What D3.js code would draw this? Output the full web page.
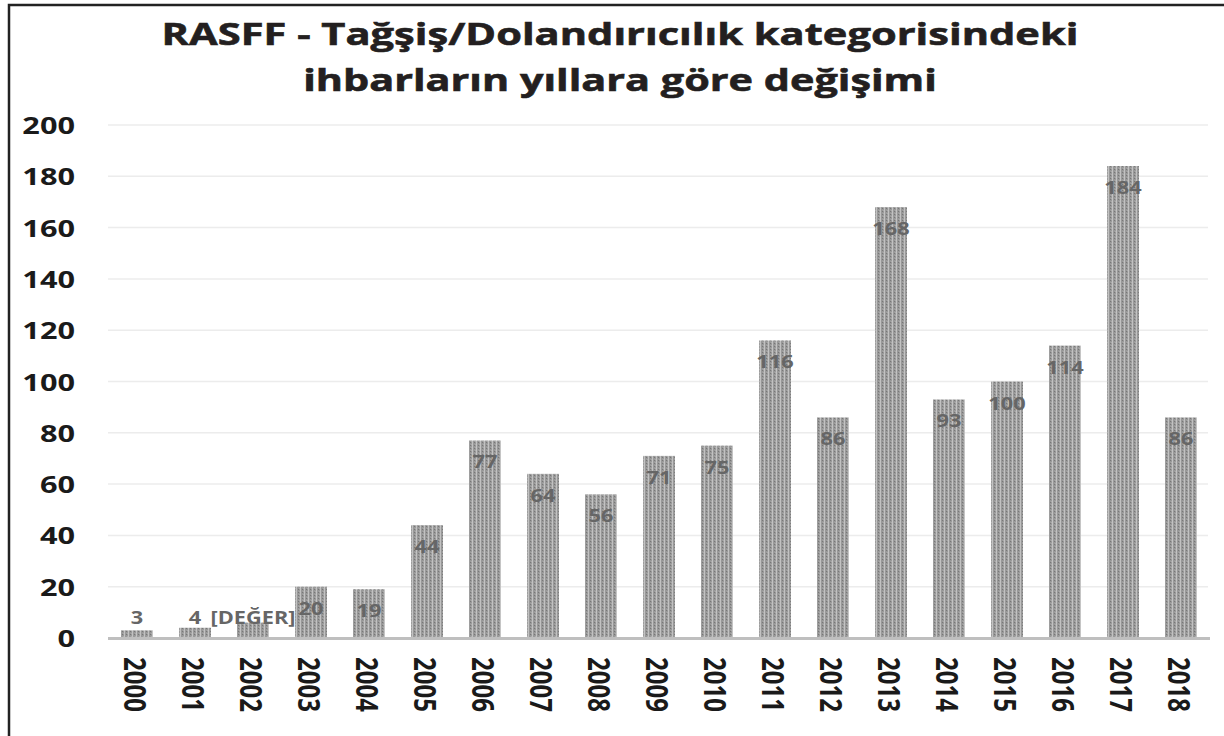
<!DOCTYPE html>
<html><head><meta charset="utf-8">
<script src="https://cdn.jsdelivr.net/npm/d3@7"></script>
<style>html,body{margin:0;padding:0;background:#fff;}svg{display:block;}</style>
</head><body>
<svg id="c" width="1224" height="736"></svg>
<script>
const years = ["2000","2001","2002","2003","2004","2005","2006","2007","2008","2009","2010","2011","2012","2013","2014","2015","2016","2017","2018"];
const values = [3,4,6,20,19,44,77,64,56,71,75,116,86,168,93,100,114,184,86];
const valueLabels = ["3","4","[DEĞER]","20","19","44","77","64","56","71","75","116","86","168","93","100","114","184","86"];
const yTicks = [0,20,40,60,80,100,120,140,160,180,200];
const titleLines = ["RASFF - Tağşiş/Dolandırıcılık kategorisindeki","ihbarların yıllara göre değişimi"];

const svg = d3.select("#c");
const FONT = "'Open Sans', sans-serif";
const SX = 1.28;

// pattern for bars
const defs = svg.append("defs");
const pat = defs.append("pattern").attr("id","dots").attr("patternUnits","userSpaceOnUse")
  .attr("width",4).attr("height",3);
pat.append("rect").attr("width",4).attr("height",3).attr("fill","#999999");
pat.append("rect").attr("x",0).attr("y",0).attr("width",1).attr("height",3).attr("fill","#c2c2c2");
pat.append("rect").attr("x",2).attr("y",1).attr("width",1).attr("height",1).attr("fill","#777777");
pat.append("rect").attr("x",3).attr("y",0).attr("width",1).attr("height",1).attr("fill","#adadad");

// frame
svg.append("path").attr("d","M9,736 V5 H1224").attr("fill","none").attr("stroke","#222").attr("stroke-width",2.5);

const x = d3.scaleBand().domain(years).range([108,1210]).paddingInner(0.45).paddingOuter(0.225);
const y = d3.scaleLinear().domain([0,200]).range([638,125]);

// gridlines
svg.append("g").selectAll("line").data(yTicks.filter(d=>d>0)).join("line")
  .attr("x1",108).attr("x2",1208).attr("y1",d=>y(d)).attr("y2",d=>y(d))
  .attr("stroke","#ececec").attr("stroke-width",1.5);

// y tick labels
svg.append("g").selectAll("text").data(yTicks).join("text")
  .attr("transform",d=>`translate(75,${y(d)+9}) scale(${SX},1)`)
  .attr("text-anchor","end").attr("font-family",FONT).attr("font-weight",700)
  .attr("font-size",24).attr("fill","#1a1a1a").text(d=>d);

// bars
svg.append("g").selectAll("rect").data(values).join("rect")
  .attr("x",(d,i)=>x(years[i])).attr("width",x.bandwidth())
  .attr("y",d=>y(d)).attr("height",d=>y(0)-y(d)).attr("fill","url(#dots)");

// axis line
svg.append("line").attr("x1",108).attr("x2",1210).attr("y1",y(0)+0.5).attr("y2",y(0)+0.5)
  .attr("stroke","#bfbfbf").attr("stroke-width",3);

// value labels
svg.append("g").selectAll("text").data(values).join("text")
  .attr("transform",(d,i)=>`translate(${x(years[i])+x.bandwidth()/2},${Math.min(y(d)+28,y(0)-14)}) scale(${SX},1)`)
  .attr("text-anchor","middle").attr("font-family",FONT).attr("font-weight",700)
  .attr("font-size",17).attr("fill","#666").text((d,i)=>valueLabels[i]);

// x labels
svg.append("g").selectAll("text").data(years).join("text")
  .attr("transform",d=>`translate(${x(d)+x.bandwidth()/2-2},657) scale(${SX},1) rotate(90)`)
  .attr("dy","0.36em")
  .attr("text-anchor","start").attr("font-family",FONT).attr("font-weight",700)
  .attr("font-size",24).attr("fill","#1a1a1a").text(d=>d);

// title
const tl = [ {t:titleLines[0], y:45, w:917}, {t:titleLines[1], y:91, w:634} ];
tl.forEach(o=>{
  const t = svg.append("text").attr("font-family",FONT).attr("font-weight",700)
    .attr("font-size",31).attr("fill","#231f20").attr("stroke","#231f20").attr("stroke-width",0.6)
    .attr("text-anchor","middle").text(o.t);
  const w = t.node().getComputedTextLength();
  t.attr("transform",`translate(620,${o.y}) scale(${o.w/w},1)`);
});
</script>
</body></html>
